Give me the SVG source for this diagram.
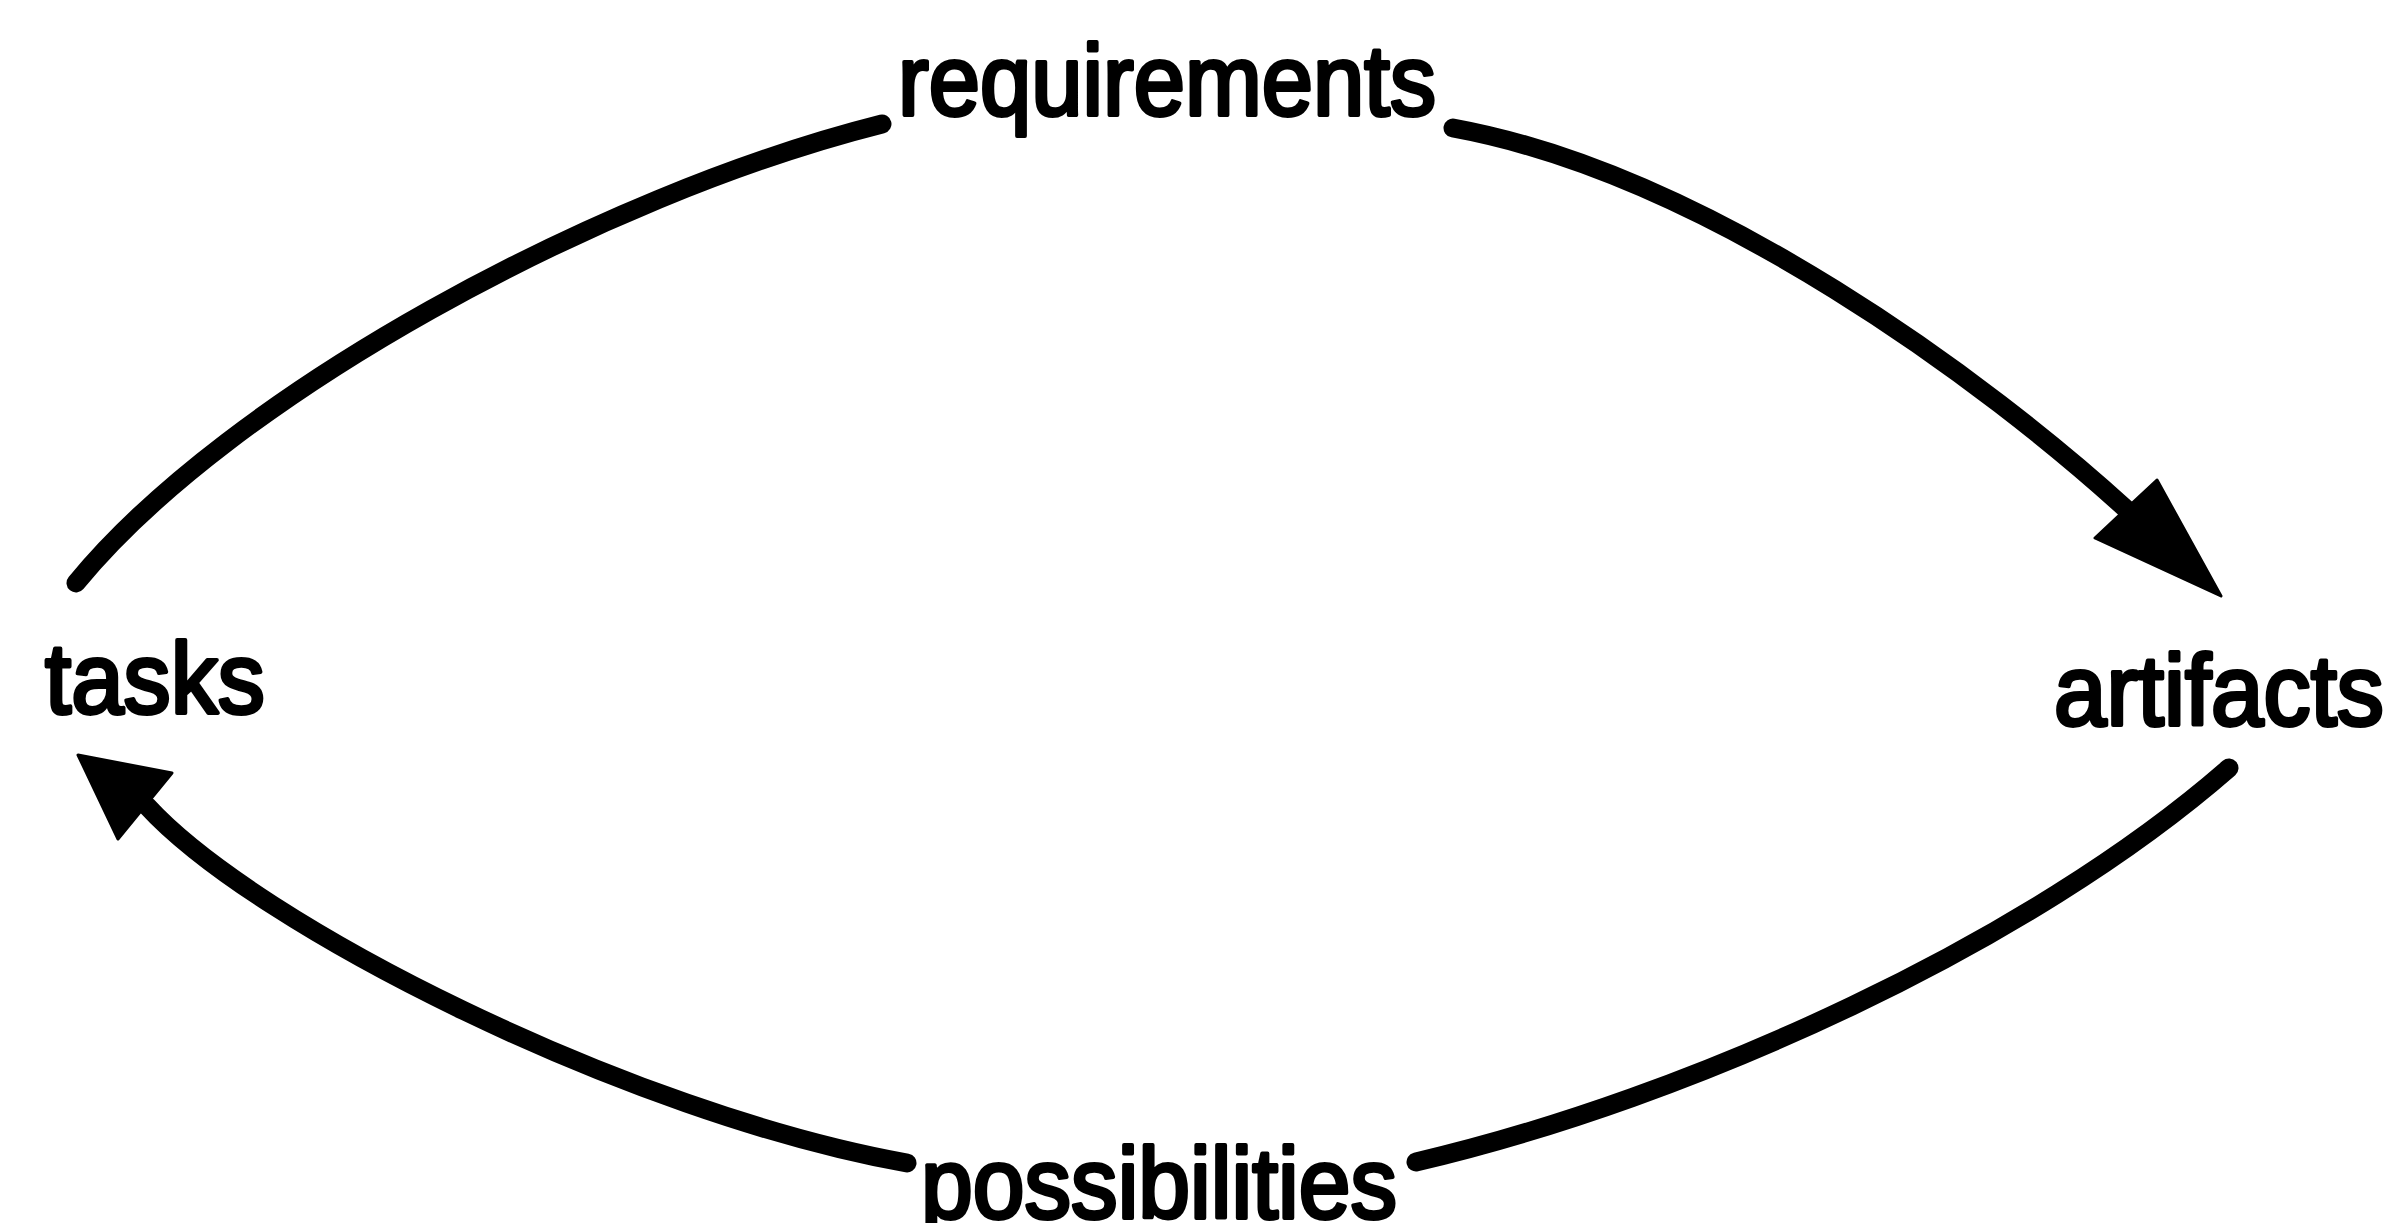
<svg xmlns="http://www.w3.org/2000/svg" width="2389" height="1223" viewBox="0 0 2389 1223">
<style>
.lbl{font-family:"Liberation Sans",Arial,sans-serif;font-size:100px;fill:#000;stroke:#000;stroke-width:4px;stroke-linejoin:round;}
.arc{fill:none;stroke:#000;stroke-width:19;stroke-linecap:round;stroke-linejoin:round;}
.head{fill:#000;stroke:#000;stroke-width:3;stroke-linejoin:round;}
</style>
<rect width="2389" height="1223" fill="#fff"/>
<g id="connectors">
<path class="arc" d="M76,583 C230,395 600,195 882,124"/>
<path class="arc" d="M1453,128 C1710,175 1990,385 2126,509"/>
<polygon class="head" points="2221,596 2157,480 2095,538"/>
<path class="arc" d="M2229,768 C2030,942 1694,1097 1416,1162"/>
<path class="arc" d="M907,1163 C629,1113 257,926 147,806"/>
<polygon class="head" points="78,755 172,773 118,839"/>
</g>
<g id="node-requirements"><text class="lbl" x="898" y="115" textLength="538" lengthAdjust="spacingAndGlyphs">requirements</text></g>
<g id="node-tasks"><text class="lbl" x="45" y="713" textLength="220" lengthAdjust="spacingAndGlyphs">tasks</text></g>
<g id="node-artifacts"><text class="lbl" x="2054" y="725" textLength="330" lengthAdjust="spacingAndGlyphs">artifacts</text></g>
<g id="node-possibilities"><text class="lbl" x="921" y="1218" textLength="476" lengthAdjust="spacingAndGlyphs">possibilities</text></g>
</svg>
